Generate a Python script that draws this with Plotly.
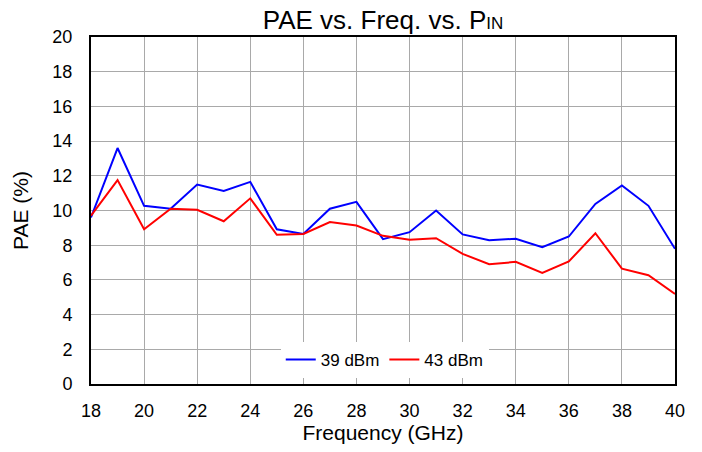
import plotly.graph_objects as go

# 频率点 (GHz)
freq = list(range(18, 41))

# PAE (%) 读自原图
pae_39dbm = [9.6, 13.6, 10.27, 10.1, 11.5, 11.13, 11.65, 8.92, 8.65, 10.1, 10.5, 8.35,
             8.75, 10.0, 8.62, 8.29, 8.37, 7.88, 8.5, 10.38, 11.44, 10.27, 7.79]
pae_43dbm = [9.7, 11.75, 8.92, 10.1, 10.04, 9.38, 10.7, 8.6, 8.65, 9.33, 9.13, 8.54,
             8.31, 8.4, 7.5, 6.9, 7.04, 6.4, 7.06, 8.69, 6.65, 6.27, 5.19]

series = [("39 dBm", pae_39dbm, "#0000ff"), ("43 dBm", pae_43dbm, "#ff0000")]

FONT = "Liberation Sans, Arial"

fig = go.Figure()
for name, vals, color in series:
    fig.add_trace(go.Scatter(x=freq, y=vals, name=name, mode="lines",
                             line=dict(color=color, width=2)))

axis_style = dict(showgrid=True, gridcolor="#a9a9a9", gridwidth=1,
                  showline=True, linecolor="black", linewidth=2, mirror=True,
                  zeroline=False, ticks="",
                  tickfont=dict(family=FONT, size=18, color="black"))

# 页面 body 有 8px 边距，这里的边距已扣除
fig.update_layout(
    width=702, height=452,
    margin=dict(l=83, r=35, t=29, b=76),
    paper_bgcolor="white", plot_bgcolor="white",
    title=dict(text='PAE vs. Freq. vs. P<span style="font-size:17px">IN</span>',
               x=(83 + 292) / 702, xanchor="center",
               y=1 - 12 / 452, yanchor="middle",
               font=dict(family=FONT, size=26, color="black")),
    xaxis=dict(range=[18, 40], dtick=2, tick0=18, ticklabelstandoff=9,
               title=dict(text="Frequency (GHz)", standoff=4,
                          font=dict(family=FONT, size=21, color="black")),
               **axis_style),
    yaxis=dict(range=[0, 20], dtick=2, tick0=0, ticklabelstandoff=13,
               title=dict(text="PAE (%)", standoff=18,
                          font=dict(family=FONT, size=21, color="black")),
               **axis_style),
    legend=dict(orientation="h", x=0.503, xanchor="center", y=0.069, yanchor="middle",
                bgcolor="white", borderwidth=0, itemwidth=30,
                font=dict(family=FONT, size=17, color="black")),
)

fig.write_html("out.html")
